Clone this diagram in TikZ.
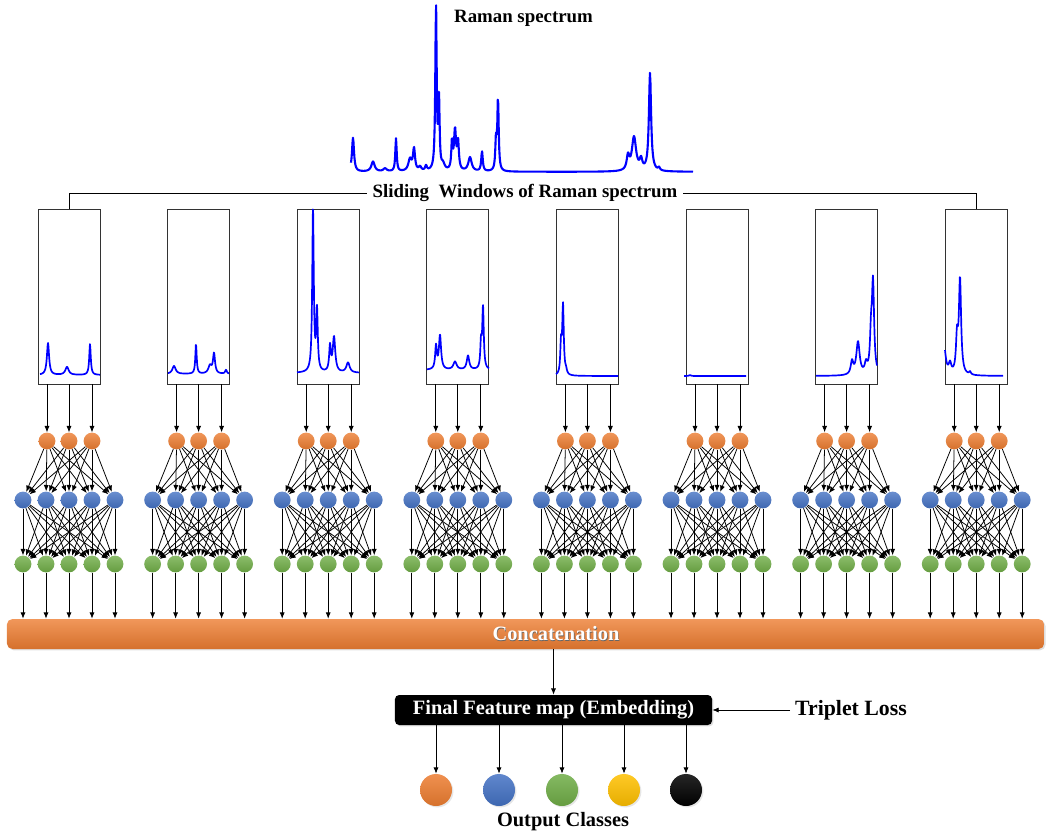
\documentclass[tikz,border=0pt]{standalone}
\usepackage{fontspec}
\setmainfont{Liberation Serif}
\usetikzlibrary{arrows.meta,shadows}
\tikzset{>=stealth}
\definecolor{orangeN}{HTML}{ED7D31}
\definecolor{blueN}{HTML}{4472C4}
\definecolor{greenN}{HTML}{70AD47}
\definecolor{yellowN}{HTML}{FFC000}
% one Lorentzian peak: centre, height, half width (in px)
\newcommand{\pk}[3]{#2/(1+(min(abs(\x-(#1)),60)/(#3))^2)}

\begin{document}
\begin{tikzpicture}[x=0.025cm, y=-0.025cm,
	spec/.style={color=blue, line width=1.2pt, line join=round},
	win/.style={draw=black!80, line width=0.6pt, minimum width=1.55cm, minimum height=4.375cm, inner sep=0},
	neur/.style={circle, minimum size=0.42cm, inner sep=0},
	link/.style={-{Latex[length=4.5pt,width=3.6pt]}, line width=0.55pt},
	lbl/.style={font=\fontsize{13.4}{15}\selectfont\bfseries},
	big/.style={font=\fontsize{14.5}{16}\selectfont\bfseries}]
	\useasboundingbox (0,0) rectangle (1050,839);
	
	% full spectrum
	\node[lbl] (title) at (523.5,18) {Raman spectrum};
	\draw [spec, line width=1.5pt] plot[domain=351:693, samples=700] (\x, {172-\pk{353}{34}{1.2}-\pk{373}{10}{2}-\pk{385}{3}{2}-\pk{396}{33}{0.8}-\pk{410}{12}{2}-\pk{414}{22}{1.2}-\pk{420}{4}{1.5}-\pk{426}{5}{1}-\pk{436}{166}{0.8}-\pk{439}{68}{0.7}-\pk{443}{6}{2}-\pk{452}{28}{0.8}-\pk{455}{40}{1.2}-\pk{458}{28}{1}-\pk{470}{14}{2}-\pk{482}{20}{0.9}-\pk{496}{30}{0.8}-\pk{498}{72}{0.8}-\pk{628}{14}{1.5}-\pk{634}{34}{2.5}-\pk{641}{10}{1.5}-\pk{650}{98}{1.3}-\pk{659}{3}{1}});
	
	% windows and small networks
	\foreach \k in {0,...,7} {
		\pgfmathsetmacro\cx{69+129.6*\k}
		\node[win] (win-\k) at (\cx,296.5) {};
		\foreach \i/\dx in {1/-22,2/0,3/23}
		\node[neur, top color=orangeN!80!white, bottom color=orangeN!90!black] (o-\k-\i) at ({\cx+\dx},441) {};
		\foreach \j in {1,...,5} {
			\node[neur, top color=blueN!80!white, bottom color=blueN!90!black] (b-\k-\j) at ({\cx+23*(\j-3)},500) {};
			\node[neur, top color=greenN!80!white, bottom color=greenN!90!black] (g-\k-\j) at ({\cx+23*(\j-3)},564) {};
		}
		\foreach \i in {1,2,3}
		\draw [link] (o-\k-\i |- win-\k.south) -- (o-\k-\i);
		\foreach \i in {1,2,3}
		\foreach \j in {1,...,5}
		\draw [link] (o-\k-\i) -- (b-\k-\j);
		\foreach \i in {1,...,5}
		\foreach \j in {1,...,5}
		\draw [link] (b-\k-\i) -- (g-\k-\j);
	}
	
	% window spectra
	\draw [spec] plot[domain=40:100, samples=150] (\x, {375-\pk{48}{32}{1.3}-\pk{67}{8}{2}-\pk{90}{31}{0.9}});
	\draw [spec] plot[domain=168:229, samples=150] (\x, {374-\pk{174}{8}{2}-\pk{196}{30}{0.8}-\pk{210}{8}{2}-\pk{214}{20}{1.2}-\pk{226}{4}{1}});
	\draw [spec] plot[domain=297:359, samples=200] (\x, {373-\pk{313}{163}{0.9}-\pk{317}{60}{0.9}-\pk{330}{25}{1}-\pk{334}{35}{1.5}-\pk{348}{10}{2}});
	\draw [spec] plot[domain=427:489, samples=200] (\x, {370-\pk{436}{23}{1}-\pk{440}{34}{1.3}-\pk{455}{8}{2}-\pk{468}{14}{1.5}-\pk{481}{25}{0.8}-\pk{483}{62}{0.9}});
	\draw [spec] plot[domain=556:618, samples=150] (\x, {376-\pk{561}{30}{0.8}-\pk{563}{70}{0.9}-\pk{566}{4}{1}});
	\draw [spec] plot[domain=684:746, samples=60] (\x, {376-\pk{690}{1}{1}});
	\draw [spec] plot[domain=816:877, samples=150] (\x, {376-\pk{852}{13}{1.5}-\pk{858}{33}{2}-\pk{866}{10}{1.5}-\pk{871}{35}{1.2}-\pk{873}{90}{1.3}});
	\draw [spec] plot[domain=945:1003, samples=150] (\x, {376-\pk{944}{30}{2}-\pk{950}{10}{1.5}-\pk{957}{35}{1.2}-\pk{960}{95}{1.3}-\pk{970}{3}{1}});
	
	% sliding windows bracket
	\node[lbl, fill=white, inner xsep=4pt] (slide) at (525,193) {Sliding\ \ Windows of Raman spectrum};
	\draw [line width=0.7pt] (win-0.north) |- (slide.west);
	\draw [line width=0.7pt] (win-7.north) |- (slide.east);
	
	% concatenation bar
	\node[rounded corners=4pt, minimum width=25.925cm, minimum height=0.75cm, top color=orangeN!80!white, bottom color=orangeN!90!black, drop shadow={opacity=0.25, shadow xshift=1pt, shadow yshift=-1pt}] (concat) at (525.5,634) {};
	\node[big, text=black!60] at (556.6,634.6) {Concatenation};
	\node[big, text=white] (concat-txt) at (556,634) {Concatenation};
	\foreach \k in {0,...,7}
	\foreach \j in {1,...,5}
	\draw [link] (g-\k-\j) -- (g-\k-\j |- concat.north);
	
	% embedding
	\node[rounded corners=3pt, fill=black, minimum width=7.925cm, minimum height=0.75cm, drop shadow={opacity=0.25, shadow xshift=1pt, shadow yshift=-1pt}] (feat) at (553.5,710) {};
	\node[big, text=white] (feat-txt) at (553.5,710) {Final Feature map (Embedding)};
	\draw [link] (feat |- concat.south) -- (feat);
	\node[big, font=\fontsize{15.5}{17}\selectfont\bfseries] (trip) at (851,710) {Triplet Loss};
	\draw [link] (trip.west) -- (feat.east);
	
	% output classes
	\foreach \c/\x/\col in {1/436/orangeN, 2/499/blueN, 3/562/greenN, 4/624/yellowN, 5/686/black}
	\node[circle, minimum size=0.8cm, inner sep=0, top color=\col!85!white, bottom color=\col!90!black, drop shadow={opacity=0.2, shadow xshift=1pt, shadow yshift=-1pt}] (c\c) at (\x,790) {};
	\foreach \c in {1,...,5}
	\draw [link] (c\c |- feat.south) -- (c\c);
	\node[big] (outcls) at (563,822) {Output Classes};
\end{tikzpicture}
\end{document}
